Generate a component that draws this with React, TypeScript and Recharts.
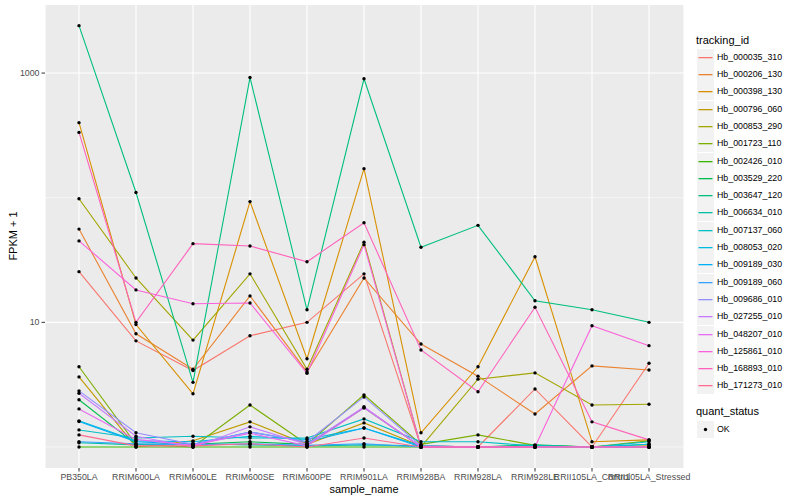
import { LineChart, Line, XAxis, YAxis, CartesianGrid, ReferenceLine } from 'recharts';

const categories = [
  'PB350LA', 'RRIM600LA', 'RRIM600LE', 'RRIM600SE', 'RRIM600PE', 'RRIM901LA',
  'RRIM928BA', 'RRIM928LA', 'RRIM928LE', 'RRII105LA_Control', 'RRII105LA_Stressed',
];

const trackingIds = [
  'Hb_000035_310', 'Hb_000206_130', 'Hb_000398_130', 'Hb_000796_060', 'Hb_000853_290',
  'Hb_001723_110', 'Hb_002426_010', 'Hb_003529_220', 'Hb_003647_120', 'Hb_006634_010',
  'Hb_007137_060', 'Hb_008053_020', 'Hb_009189_030', 'Hb_009189_060', 'Hb_009686_010',
  'Hb_027255_010', 'Hb_048207_010', 'Hb_125861_010', 'Hb_168893_010', 'Hb_171273_010',
];

const colors = [
  '#F8766D', '#EA8331', '#D89000', '#C09B00', '#A3A500', '#7CAE00', '#39B600', '#00BB4E',
  '#00BF7D', '#00C1A3', '#00BFC4', '#00BAE0', '#00B0F6', '#35A2FF', '#9590FF', '#C77CFF',
  '#E76BF3', '#FA62DB', '#FF62BC', '#FF6C91',
];

// FPKM + 1 per sample, in category order
const hb000035_310 = [25.5, 7.1, 4.1, 7.8, 10, 24.5, 1.0, 1.0, 2.92, 1.0, 4.7];
const hb000206_130 = [56, 8.1, 4.2, 16.3, 4.0, 22.7, 6.7, 3.7, 1.84, 4.47, 4.15];
const hb000398_130 = [400, 9.6, 2.67, 93, 5.1, 171, 1.3, 4.4, 33.6, 1.1, 1.14];
const hb000796_060 = [3.65, 1.0, 1.12, 1.59, 1.05, 1.56, 1.02, 1.0, 1.0, 1.0, 1.02];
const hb000853_290 = [98, 22.7, 7.2, 24.5, 4.2, 44, 1.0, 3.5, 3.93, 2.17, 2.2];
const hb001723_110 = [4.4, 1.05, 1.0, 2.17, 1.05, 2.62, 1.05, 1.25, 1.03, 1.0, 1.12];
const hb002426_010 = [1.0, 1.0, 1.0, 1.0, 1.0, 1.0, 1.0, 1.0, 1.0, 1.0, 1.0];
const hb003529_220 = [2.39, 1.05, 1.05, 1.1, 1.05, 2.06, 1.0, 1.0, 1.04, 1.0, 1.0];
const hb003647_120 = [2400, 110, 3.3, 920, 12.6, 900, 40, 60, 14.9, 12.6, 10];
const hb006634_010 = [1.08, 1.04, 1.06, 1.04, 1.02, 1.04, 1.02, 1.0, 1.03, 1.0, 1.05];
const hb007137_060 = [1.37, 1.18, 1.22, 1.18, 1.18, 1.68, 1.1, 1.1, 1.02, 1.0, 1.1];
const hb008053_020 = [1.62, 1.12, 1.1, 1.22, 1.15, 1.42, 1.02, 1.0, 1.0, 1.0, 1.05];
const hb009189_030 = [1.6, 1.1, 1.05, 1.32, 1.1, 1.42, 1.0, 1.0, 1.0, 1.0, 1.0];
const hb009189_060 = [1.1, 1.06, 1.04, 1.06, 1.03, 1.06, 1.0, 1.0, 1.0, 1.0, 1.0];
const hb009686_010 = [2.82, 1.3, 1.05, 1.32, 1.1, 2.52, 1.02, 1.0, 1.0, 1.0, 1.0];
const hb027255_010 = [2.7, 1.22, 1.0, 1.45, 1.05, 2.1, 1.0, 1.0, 1.0, 1.0, 1.0];
const hb048207_010 = [2.02, 1.15, 1.03, 1.29, 1.02, 2.06, 1.0, 1.0, 1.0, 1.0, 1.0];
const hb125861_010 = [45, 18.2, 14.1, 14.3, 3.9, 42, 1.0, 1.0, 1.0, 9.4, 6.5];
const hb168893_010 = [334, 10, 42.8, 41, 30.6, 63, 6.0, 2.77, 13.2, 1.59, 1.14];
const hb171273_010 = [1.25, 1.02, 1.02, 1.06, 1.0, 1.18, 1.0, 1.0, 1.0, 1.0, 1.0];

const seriesValues = [
  hb000035_310, hb000206_130, hb000398_130, hb000796_060, hb000853_290,
  hb001723_110, hb002426_010, hb003529_220, hb003647_120, hb006634_010,
  hb007137_060, hb008053_020, hb009189_030, hb009189_060, hb009686_010,
  hb027255_010, hb048207_010, hb125861_010, hb168893_010, hb171273_010,
];

const yTicks = [10, 1000];
const yMinor = [1, 100];

const data = categories.map((name, i) => {
  const row: Record<string, string | number> = { sample_name: name };
  trackingIds.forEach((id, k) => {
    row[id] = seriesValues[k][i];
  });
  return row;
});

const font = '"Liberation Sans", Arial, sans-serif';

export default function App() {
  return (
    <div style={{ position: 'absolute', left: 0, top: 0, width: 800, height: 500, background: '#fff', fontFamily: font }}>
      <LineChart width={800} height={500} data={data} margin={{ top: 5, right: 116, bottom: 0, left: 0 }}>
        <CartesianGrid fill="#EBEBEB" stroke="#FFFFFF" strokeWidth={1.1} horizontal={false} />
        {yMinor.map((v) => (
          <ReferenceLine key={'mn' + v} y={v} stroke="#FFFFFF" strokeWidth={0.55} />
        ))}
        {yTicks.map((v) => (
          <ReferenceLine key={'mj' + v} y={v} stroke="#FFFFFF" strokeWidth={1.1} />
        ))}
        <XAxis
          dataKey="sample_name"
          interval={0}
          padding={{ left: 34, right: 35 }}
          height={32}
          axisLine={false}
          tickLine={{ stroke: '#333333' }}
          tickSize={3.5}
          tickMargin={2}
          tick={{ fontSize: 8.8, fill: '#4D4D4D', fontFamily: font }}
        />
        <YAxis
          scale="log"
          domain={[0.678, 3516]}
          allowDataOverflow
          ticks={yTicks}
          width={45}
          axisLine={false}
          tickLine={{ stroke: '#333333' }}
          tickSize={3.5}
          tickMargin={2}
          tick={{ fontSize: 8.8, fill: '#4D4D4D', fontFamily: font }}
        />
        {trackingIds.map((id, k) => (
          <Line
            key={id}
            dataKey={id}
            type="linear"
            stroke={colors[k]}
            strokeWidth={1.1}
            dot={false}
            isAnimationActive={false}
          />
        ))}
        {trackingIds.map((id) => (
          <Line
            key={'pt' + id}
            dataKey={id}
            type="linear"
            stroke="none"
            strokeWidth={0}
            dot={{ r: 1.7, fill: '#000000', stroke: 'none' }}
            activeDot={false}
            legendType="none"
            isAnimationActive={false}
          />
        ))}
      </LineChart>

      <div style={{ position: 'absolute', left: 364, top: 483, transform: 'translateX(-50%)', fontSize: 11, color: '#000', whiteSpace: 'nowrap' }}>
        sample_name
      </div>
      <div
        style={{
          position: 'absolute', left: 13, top: 236, transform: 'translate(-50%, -50%) rotate(-90deg)',
          fontSize: 11, color: '#000', whiteSpace: 'nowrap',
        }}
      >
        FPKM + 1
      </div>

      <div style={{ position: 'absolute', left: 696, top: 34, fontSize: 11, color: '#000', whiteSpace: 'nowrap' }}>tracking_id</div>
      {trackingIds.map((id, k) => {
        const cy = Math.round(56.7 + 17.3 * k);
        return (
          <div key={'lg' + id}>
            <svg style={{ position: 'absolute', left: 697, top: cy - 8, display: 'block' }} width={17} height={17}>
              <rect x={0} y={0} width={17} height={17} fill="#F2F2F2" />
              <rect x={1.5} y={8} width={14} height={1.3} fill={colors[k]} />
            </svg>
            <div style={{ position: 'absolute', left: 717, top: cy - 5, fontSize: 8.8, lineHeight: '11px', color: '#000', whiteSpace: 'nowrap' }}>{id}</div>
          </div>
        );
      })}

      <div style={{ position: 'absolute', left: 696, top: 405, fontSize: 11, color: '#000', whiteSpace: 'nowrap' }}>quant_status</div>
      <svg style={{ position: 'absolute', left: 697, top: 421, display: 'block' }} width={17} height={17}>
        <rect x={0} y={0} width={17} height={17} fill="#F2F2F2" />
        <circle cx={8.5} cy={8.5} r={1.7} fill="#000" />
      </svg>
      <div style={{ position: 'absolute', left: 717, top: 424, fontSize: 8.8, lineHeight: '11px', color: '#000' }}>OK</div>
    </div>
  );
}
